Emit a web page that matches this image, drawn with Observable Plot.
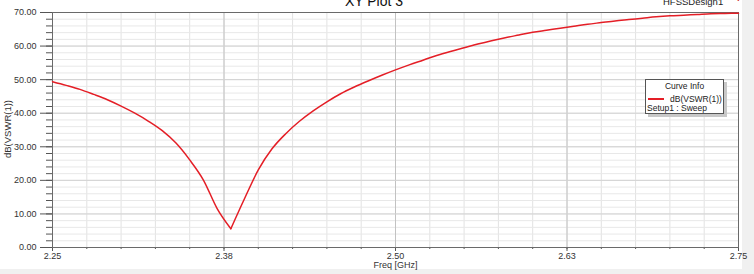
<!DOCTYPE html>
<html>
<head>
<meta charset="utf-8">
<script src="https://cdn.jsdelivr.net/npm/d3@7"></script>
<script src="https://cdn.jsdelivr.net/npm/@observablehq/plot@0.6"></script>
<style>
  html, body { margin: 0; padding: 0; background: #f0f0f0; }
  #wrap { position: relative; width: 754px; height: 274px; overflow: hidden; background: #f0f0f0;
          font-family: "Liberation Sans", Arial, sans-serif; color: #333; }
  #chart { position: absolute; left: 0; top: 0; width: 742px; height: 269px; background: white; }
  #chart svg { display: block; overflow: visible; }
  .abs { position: absolute; white-space: nowrap; }
  #legend { position: absolute; left: 645px; top: 79px; width: 79px; height: 35px; box-sizing: border-box;
            border: 1px solid #555; background: white; box-shadow: 3px 3px 0 #c8c8c8; font-size: 8.5px; line-height: 10px; color: #222; }
</style>
</head>
<body>
<div id="wrap">
  <div id="chart"></div>
  <div class="abs" style="left:0;width:748px;text-align:center;top:-6px;font-size:14px;line-height:14px;color:#111;">XY Plot 3</div>
  <div class="abs" style="left:663px;top:-3px;font-size:9.5px;line-height:9.5px;color:#222;">HFSSDesign1</div>
  <div class="abs" style="left:735px;top:-5px;font-size:8px;line-height:8px;color:#d03030;">✱</div>
  <div class="abs" style="left:8px;top:129px;font-size:9.5px;line-height:10px;color:#333;transform:translate(-50%,-50%) rotate(-90deg);">dB(VSWR(1))</div>
  <div id="legend">
    <div class="abs" style="left:0;width:100%;text-align:center;top:1px;">Curve Info</div>
    <div class="abs" style="left:2px;top:18px;width:16px;height:2px;background:#e41e26;"></div>
    <div class="abs" style="left:24px;top:14px;">dB(VSWR(1))</div>
    <div class="abs" style="left:1px;top:23px;">Setup1 : Sweep</div>
  </div>
</div>
<script>
// Frequency sweep (GHz) and dB(VSWR(1)) values
const freq = [2.25, 2.26, 2.27, 2.28, 2.29, 2.30, 2.31, 2.32, 2.33, 2.34,
              2.35, 2.36, 2.37, 2.38, 2.39, 2.40, 2.41, 2.42, 2.43, 2.44,
              2.45, 2.46, 2.47, 2.48, 2.49, 2.50, 2.51, 2.52, 2.53, 2.54,
              2.55, 2.56, 2.57, 2.58, 2.59, 2.60, 2.61, 2.62, 2.63, 2.64,
              2.65, 2.66, 2.67, 2.68, 2.69, 2.70, 2.71, 2.72, 2.73, 2.74, 2.75];
const vswrDb = [49.4, 48.3, 47.1, 45.6, 44.0, 42.1, 40.0, 37.6, 34.8, 31.1,
                26.1, 20.1, 11.6, 5.6, 14.6, 23.1, 29.4, 33.9, 37.6, 40.7,
                43.4, 45.8, 47.8, 49.6, 51.3, 52.9, 54.4, 55.8, 57.2, 58.4,
                59.5, 60.6, 61.6, 62.5, 63.3, 64.1, 64.7, 65.3, 65.9, 66.5,
                67.0, 67.5, 67.9, 68.3, 68.7, 69.0, 69.2, 69.4, 69.6, 69.7, 69.8];

const xTicks = [2.25, 2.375, 2.50, 2.625, 2.75];
const xTickLabels = ["2.25", "2.38", "2.50", "2.63", "2.75"];
const yTicks = [0, 10, 20, 30, 40, 50, 60, 70];
const yTickLabels = ["0.00", "10.00", "20.00", "30.00", "40.00", "50.00", "60.00", "70.00"];
const xMinor = d3.range(0, 21).map(i => 2.25 + i * 0.025);
const yMinor = d3.range(0, 36).map(i => i * 2);

// split the sweep at the resonance so the dip stays a sharp V
const iMin = vswrDb.indexOf(d3.min(vswrDb));
const data = [];
freq.forEach((f, i) => {
  if (i <= iMin) data.push({f, v: vswrDb[i], side: "low"});
  if (i >= iMin) data.push({f, v: vswrDb[i], side: "high"});
});

const chart = Plot.plot({
  width: 742,
  height: 269,
  marginLeft: 52,
  marginRight: 4,
  marginTop: 12,
  marginBottom: 22,
  style: {background: "white", fontFamily: "'Liberation Sans', Arial, sans-serif", fontSize: "9px", color: "#333", overflow: "visible"},
  x: {domain: [2.25, 2.75]},
  y: {domain: [0, 70]},
  marks: [
    Plot.gridX(xMinor, {stroke: "#e2e2e2", strokeOpacity: 1}),
    Plot.gridY(yMinor, {stroke: "#e8e8e8", strokeOpacity: 1}),
    Plot.gridX(xTicks, {stroke: "#c2c2c2", strokeOpacity: 1}),
    Plot.gridY(yTicks, {stroke: "#d2d2d2", strokeOpacity: 1}),
    Plot.axisY(yMinor, {tickSize: 6, tickFormat: () => "", stroke: "#555", label: null}),
    Plot.axisY(yTicks, {tickSize: 12, tickPadding: 4, stroke: "#555", label: null,
      tickFormat: d => yTickLabels[yTicks.indexOf(d)]}),
    Plot.axisX(xMinor, {tickSize: 2, tickFormat: () => "", stroke: "#555", label: null}),
    Plot.axisX(xTicks, {tickSize: 4, tickPadding: 1, stroke: "#555", label: null,
      tickFormat: d => xTickLabels[xTicks.indexOf(d)]}),
    Plot.frame({stroke: "#6a6a6a"}),
    Plot.line(data, {x: "f", y: "v", z: "side", stroke: "#e41e26", strokeWidth: 1.5, curve: "monotone-x"}),
    Plot.text(["Freq [GHz]"], {x: () => 2.5, frameAnchor: "bottom", dy: 20, fill: "#333", fontSize: 9})
  ]
});
document.getElementById("chart").appendChild(chart);
</script>
</body>
</html>
